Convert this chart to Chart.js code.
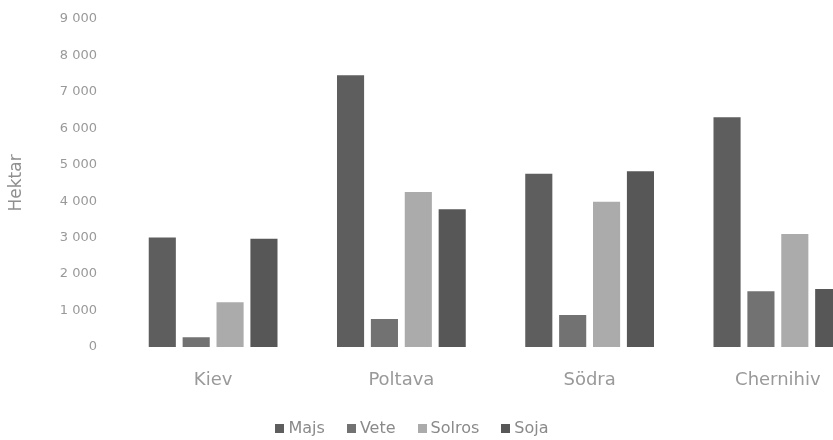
<!DOCTYPE html>
<html>
<head>
<meta charset="utf-8">
<script src="https://cdn.jsdelivr.net/npm/chart.js@4"></script>
<style>
  html, body { margin: 0; padding: 0; background: #fff; overflow: hidden; width: 833px; height: 440px; }
  #wrap { position: relative; width: 880px; height: 440px; overflow: hidden; }
  #c { position: absolute; left: 0; top: -11px; }
  #legend { position: absolute; left: 0; width: 824px; top: 417px; text-align: center; line-height: 22px;
            font-family: "DejaVu Sans", sans-serif; font-size: 16px; color: #8a8a8a; white-space: nowrap; }
  #legend span.item { margin: 0 11px; }
  #legend i { display: inline-block; width: 9px; height: 9px; margin-right: 4px; vertical-align: 0px; }
</style>
</head>
<body>
<div id="wrap">
  <canvas id="c" width="880" height="451"></canvas>
  <div id="legend"></div>
</div>
<script>
// Regions and cultivated area (hectares) per crop
const regions = ["Kiev", "Poltava", "Södra", "Chernihiv"];
const crops = ["Majs", "Vete", "Solros", "Soja"];
const majs   = [3000, 7450, 4750, 6300];
const vete   = [270, 770, 880, 1530];
const solros = [1230, 4250, 3980, 3100];
const soja   = [2970, 3780, 4820, 1590];
const yTicks = [0, 1000, 2000, 3000, 4000, 5000, 6000, 7000, 8000, 9000];
const yTitle = "Hektar";

const colors = ["#5e5e5e", "#727272", "#ababab", "#575757"];
const seriesValues = [majs, vete, solros, soja];

// Thousands separated by a space, e.g. 9 000
function fmt(v) {
  return String(v).replace(/\B(?=(\d{3})+(?!\d))/g, " ");
}

const datasets = crops.map((name, i) => ({
  label: name,
  data: seriesValues[i],
  backgroundColor: colors[i],
  borderWidth: 0,
  barPercentage: 0.8,
  categoryPercentage: 0.72
}));

new Chart(document.getElementById("c"), {
  type: "bar",
  data: { labels: regions, datasets },
  options: {
    responsive: false,
    animation: false,
    layout: { padding: { top: 0, left: 0, right: 8, bottom: 0 } },
    plugins: { legend: { display: false }, tooltip: { enabled: false } },
    scales: {
      x: {
        grid: { display: false, drawTicks: false },
        border: { display: false },
        ticks: { color: "#999999", padding: 23, font: { family: "DejaVu Sans", size: 18 } },
        afterFit: s => { s.height = 93; }
      },
      y: {
        min: yTicks[0],
        max: yTicks[yTicks.length - 1],
        afterBuildTicks: s => { s.ticks = yTicks.map(v => ({ value: v })); },
        grid: { display: false, drawTicks: false },
        border: { display: false },
        ticks: { color: "#999999", padding: 22, font: { family: "DejaVu Sans", size: 13 }, callback: v => fmt(v) },
        title: { display: true, text: yTitle, color: "#8f8f8f", padding: { top: 6, bottom: 0 }, font: { family: "DejaVu Sans", size: 17 } },
        afterFit: s => { s.width = 119; }
      }
    }
  }
});

// Legend row under the chart
const legend = document.getElementById("legend");
crops.forEach((name, i) => {
  const item = document.createElement("span");
  item.className = "item";
  const box = document.createElement("i");
  box.style.background = colors[i];
  item.appendChild(box);
  item.appendChild(document.createTextNode(name));
  legend.appendChild(item);
});
</script>
</body>
</html>
